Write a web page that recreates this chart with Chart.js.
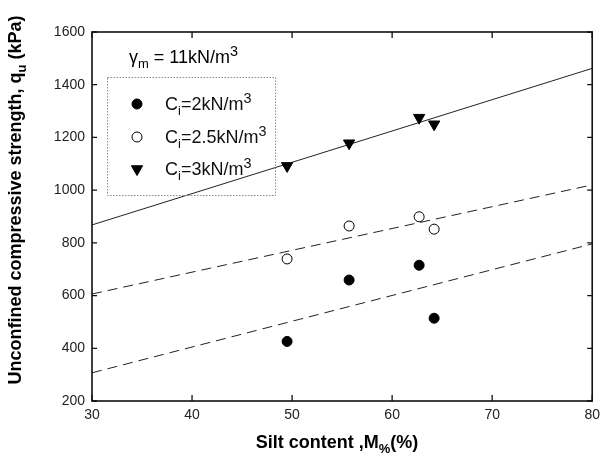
<!DOCTYPE html>
<html>
<head>
<meta charset="utf-8">
<script src="https://cdn.jsdelivr.net/npm/chart.js@4.4.1/dist/chart.umd.min.js"></script>
<style>
  html, body { margin: 0; padding: 0; background: #fff; }
  #wrap { width: 606px; height: 463px; }
</style>
</head>
<body>
<div id="wrap"><canvas id="chart" width="606" height="463"></canvas></div>
<script>
// --- data ---
const siltContent = [49.5, 55.7, 62.7, 64.2];
const quCi2 = [426, 659, 715, 514];
const quCi25 = [739, 864, 899, 852];
const quCi3 = [1092, 1178, 1275, 1250];

// trend lines, end points at M% = 30 and 80
const fitX = [30, 80];
const fitCi2 = [307, 796];
const fitCi25 = [606, 1020];
const fitCi3 = [868, 1462];

const xTicks = [30, 40, 50, 60, 70, 80];
const yTicks = [200, 400, 600, 800, 1000, 1200, 1400, 1600];

// rich labels (sub / sup pieces)
const legendTitle = [{ t: '\u03b3' }, { t: 'm', sub: true }, { t: ' = 11kN/m' }, { t: '3', sup: true }];
const seriesLabels = [
    [{ t: 'C' }, { t: 'i', sub: true }, { t: '=2kN/m' }, { t: '3', sup: true }],
    [{ t: 'C' }, { t: 'i', sub: true }, { t: '=2.5kN/m' }, { t: '3', sup: true }],
    [{ t: 'C' }, { t: 'i', sub: true }, { t: '=3kN/m' }, { t: '3', sup: true }]
];
const xTitle = [{ t: 'Silt content ,M' }, { t: '%', sub: true }, { t: '(%)' }];
const yTitle = [{ t: 'Unconfined compressive strength, q' }, { t: 'u', sub: true }, { t: ' (kPa)' }];

const FONT = '"Liberation Sans", Arial, sans-serif';

const pts = (xs, ys) => xs.map((x, i) => ({ x: x, y: ys[i] }));

// --- rich text helper ---
function partSize(p, size) {
    if (p.sub) return size * 0.72;
    if (p.sup) return size * 0.8;
    return size;
}

function richWidth(ctx, parts, size, weight) {
    let w = 0;
    parts.forEach(p => {
        ctx.font = `${weight} ${partSize(p, size)}px ${FONT}`;
        w += ctx.measureText(p.t).width;
    });
    return w;
}

function drawRich(ctx, parts, x, y, size, weight) {
    let cx = x;
    parts.forEach(p => {
        const dy = p.sub ? size * 0.28 : (p.sup ? -size * 0.4 : 0);
        ctx.font = `${weight} ${partSize(p, size)}px ${FONT}`;
        ctx.fillText(p.t, cx, y + dy);
        cx += ctx.measureText(p.t).width;
    });
}

// --- frame, inward ticks, titles and the in-plot legend ---
const decorPlugin = {
    id: 'decor',
    afterDatasetsDraw(chart) {
        const ctx = chart.ctx;
        const a = chart.chartArea;
        const xs = chart.scales.x, ys = chart.scales.y;
        ctx.save();
        ctx.strokeStyle = '#111';
        ctx.lineWidth = 1.6;
        ctx.strokeRect(a.left, a.top, a.right - a.left, a.bottom - a.top);

        ctx.lineWidth = 1.3;
        ctx.beginPath();
        xTicks.forEach(v => {
            const px = xs.getPixelForValue(v);
            ctx.moveTo(px, a.bottom); ctx.lineTo(px, a.bottom - 6);
            ctx.moveTo(px, a.top); ctx.lineTo(px, a.top + 6);
        });
        yTicks.forEach(v => {
            const py = ys.getPixelForValue(v);
            ctx.moveTo(a.left, py); ctx.lineTo(a.left + 5, py);
            ctx.moveTo(a.right, py); ctx.lineTo(a.right - 5, py);
        });
        ctx.stroke();

        ctx.fillStyle = '#000';
        ctx.textAlign = 'left';
        ctx.textBaseline = 'alphabetic';

        // x title
        const xw = richWidth(ctx, xTitle, 18, 'bold');
        drawRich(ctx, xTitle, (a.left + a.right) / 2 - 5 - xw / 2, 448, 18, 'bold');

        // y title
        const yw = richWidth(ctx, yTitle, 18, 'bold');
        ctx.save();
        ctx.translate(21, 200);
        ctx.rotate(-Math.PI / 2);
        drawRich(ctx, yTitle, -yw / 2, 0, 18, 'bold');
        ctx.restore();

        // legend title
        drawRich(ctx, legendTitle, 129, 63, 18, 'normal');

        // legend box
        ctx.save();
        ctx.strokeStyle = '#8a8a8a';
        ctx.lineWidth = 1;
        ctx.setLineDash([1.5, 1.5]);
        ctx.strokeRect(107.5, 77.5, 168, 118);
        ctx.restore();

        const rowY = [104, 137, 169];
        seriesLabels.forEach((lab, i) => {
            const ds = chart.data.datasets[i];
            ctx.fillStyle = ds.backgroundColor;
            ctx.strokeStyle = ds.borderColor;
            ctx.lineWidth = ds.borderWidth;
            Chart.helpers.drawPoint(ctx, {
                pointStyle: ds.pointStyle,
                rotation: ds.rotation || 0,
                radius: ds.pointRadius,
                borderWidth: ds.borderWidth
            }, 137, rowY[i]);
            ctx.fillStyle = '#111';
            drawRich(ctx, lab, 165, rowY[i] + 6, 18, 'normal');
        });
        ctx.restore();
    }
};

const chart = new Chart(document.getElementById('chart').getContext('2d'), {
    type: 'scatter',
    data: {
        datasets: [
            {
                label: 'Ci=2kN/m3',
                data: pts(siltContent, quCi2),
                pointStyle: 'circle',
                backgroundColor: '#000',
                borderColor: '#000',
                borderWidth: 1,
                pointRadius: 5
            },
            {
                label: 'Ci=2.5kN/m3',
                data: pts(siltContent, quCi25),
                pointStyle: 'circle',
                backgroundColor: '#fff',
                borderColor: '#000',
                borderWidth: 1,
                pointRadius: 5
            },
            {
                label: 'Ci=3kN/m3',
                data: pts(siltContent, quCi3),
                pointStyle: 'triangle',
                rotation: 180,
                backgroundColor: '#000',
                borderColor: '#000',
                borderWidth: 1,
                pointRadius: 6.5
            },
            {
                label: 'fit 2',
                data: pts(fitX, fitCi2),
                showLine: true,
                borderColor: '#222',
                borderWidth: 1,
                borderDash: [10, 6],
                pointRadius: 0
            },
            {
                label: 'fit 2.5',
                data: pts(fitX, fitCi25),
                showLine: true,
                borderColor: '#222',
                borderWidth: 1,
                borderDash: [10, 6],
                pointRadius: 0
            },
            {
                label: 'fit 3',
                data: pts(fitX, fitCi3),
                showLine: true,
                borderColor: '#222',
                borderWidth: 1,
                pointRadius: 0
            }
        ]
    },
    options: {
        responsive: false,
        animation: false,
        layout: { padding: { top: 32, right: 9, left: 0, bottom: 0 } },
        scales: {
            x: {
                type: 'linear',
                min: 30, max: 80,
                afterBuildTicks: s => { s.ticks = xTicks.map(v => ({ value: v })); },
                afterFit: s => { s.height = 62; },
                grid: { display: false, drawTicks: false },
                border: { display: false },
                ticks: { padding: 6, color: '#222', font: { family: FONT, size: 14 }, callback: v => String(v) }
            },
            y: {
                min: 200, max: 1600,
                afterBuildTicks: s => { s.ticks = yTicks.map(v => ({ value: v })); },
                afterFit: s => { s.width = 92; },
                grid: { display: false, drawTicks: false },
                border: { display: false },
                ticks: { padding: 7, color: '#222', font: { family: FONT, size: 14 }, callback: v => String(v) }
            }
        },
        plugins: {
            legend: { display: false },
            tooltip: { enabled: false }
        }
    },
    plugins: [decorPlugin]
});
</script>
</body>
</html>
